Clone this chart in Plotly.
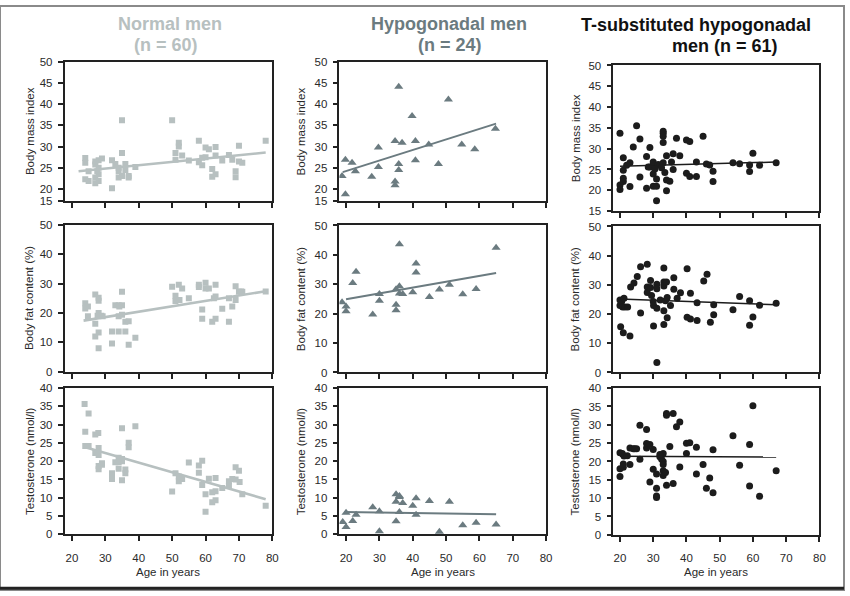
import plotly.graph_objects as go

W, H = 850, 596

# ---------------- DATA ----------------
# Normal men (n = 60)
normal_bmi_age = [24, 24, 24, 25, 25, 27, 27, 27, 27, 27.6, 28, 28, 28, 28, 29, 32, 32, 33, 34, 34, 34, 35, 35, 35,
                  36, 36, 37, 37, 39, 50, 51, 51, 52, 52, 53, 55, 58, 58, 59, 59, 60, 60, 61, 62, 62, 63, 63, 63,
                  65, 67, 68, 69, 69, 70, 70, 71, 78]
normal_bmi = [27.3, 26.2, 22.3, 21.9, 24.2, 26.5, 25.8, 22.7, 21.4, 24.2, 25.0, 26.8, 23.5, 21.9, 27.2, 20.2, 26.8,
              25.9, 24.2, 22.7, 25.0, 36.2, 28.5, 23.1, 25.9, 24.5, 23.1, 22.7, 25.2, 36.2, 28.5, 26.9, 30.9, 30.0,
              27.9, 26.7, 31.4, 26.3, 25.6, 27.4, 29.8, 27.5, 29.4, 24.7, 22.9, 29.9, 27.9, 23.5, 26.7, 28.0, 26.9,
              24.2, 22.8, 30.2, 26.5, 26.2, 31.4]
normal_fat_age = [24, 24, 24.8, 24.8, 27, 27, 27, 27.7, 28, 28, 28, 28, 28, 28.8, 29.2, 32, 32, 33, 34, 34, 34, 34.2,
                  35, 35, 35, 36, 36, 37, 37, 39, 50, 51, 51, 52, 52.2, 53, 55, 58, 58, 59, 59, 60, 60, 61, 62,
                  62.5, 63, 63, 63, 65, 67, 67, 68, 69, 69, 70, 70.6, 71, 78]
normal_fat = [23.3, 21.5, 22.2, 18.9, 26.3, 16.3, 12.0, 19.1, 25.2, 24.2, 20.0, 13.4, 8.0, 19.1, 18.9, 9.6, 13.7,
              22.6, 13.7, 22.6, 18.9, 22.2, 27.2, 22.6, 19.4, 17.0, 13.7, 17.2, 9.2, 11.6, 28.9, 25.9, 24.1, 29.6,
              24.4, 28.3, 25.0, 29.6, 28.8, 21.2, 18.0, 30.3, 28.3, 28.3, 17.0, 25.0, 29.6, 25.6, 18.0, 21.4, 17.0,
              25.0, 22.2, 29.1, 24.4, 27.2, 27.3, 27.2, 27.3]
normal_t_age = [23.8, 25, 24, 24, 25, 27, 27.9, 27, 28, 28, 28, 28, 29, 29, 32, 32, 33, 34, 34, 34, 35, 35, 35, 35,
                36, 36, 37, 37, 39, 50, 51, 52, 52, 53, 55, 58, 58, 59, 59, 60, 60, 61, 62, 62, 63, 63, 63, 65,
                67, 67, 68, 69, 69, 70, 70.2, 71, 78]
normal_t = [35.6, 33.0, 28.0, 24.1, 24.1, 27.3, 27.7, 22.2, 23.6, 21.7, 18.7, 17.8, 19.4, 19.0, 16.7, 15.1, 19.7,
            19.7, 20.9, 17.9, 20.6, 29.0, 20.0, 14.8, 17.7, 16.7, 25.0, 23.8, 29.5, 11.7, 16.7, 15.8, 14.5, 15.1,
            19.6, 18.8, 16.8, 20.1, 13.5, 11.0, 6.2, 15.2, 11.5, 8.8, 15.4, 11.8, 9.3, 12.7, 13.2, 14.5, 15.1,
            18.3, 15.0, 17.4, 14.3, 11.0, 7.8]
normal_bmi_fit_age, normal_bmi_fit = [22, 78], [24.2, 28.6]
normal_fat_fit_age, normal_fat_fit = [23.5, 78], [17.4, 27.4]
normal_t_fit_age, normal_t_fit = [24, 78], [23.8, 9.6]

# Hypogonadal men (n = 24)
hypo_age = [19, 20, 20, 22, 23, 28, 30, 30, 35, 35, 35, 36, 36, 36, 37, 40, 41, 41, 45, 48, 51, 55, 59, 65]
hypo_bmi_age = [18.8, 19.8, 19.8, 21.8, 22.8, 27.7, 29.7, 29.7, 34.7, 34.7, 34.7, 35.8, 35.8, 35.8, 36.8, 39.8,
                40.8, 40.8, 44.8, 47.7, 50.7, 54.7, 58.6, 64.8]
hypo_bmi = [23.1, 26.9, 18.8, 26.2, 24.2, 22.9, 29.8, 25.2, 31.3, 21.8, 20.9, 44.1, 25.9, 24.5, 30.9, 37.2, 31.3,
            26.8, 30.5, 25.9, 41.1, 30.5, 29.4, 34.2]
hypo_fat_age = [18.8, 20, 20, 22, 23, 28, 30, 30, 35, 35, 35, 36, 36, 36, 37, 40, 41, 41, 45, 48, 51, 55, 59, 65]
hypo_fat = [23.9, 22.4, 20.8, 30.4, 34.3, 19.7, 26.7, 24.4, 23.0, 21.2, 28.3, 43.6, 29.3, 26.9, 26.7, 27.3, 37.1,
            34.0, 25.7, 28.2, 29.8, 26.6, 28.4, 42.4]
hypo_t = [3.4, 5.9, 2.0, 3.7, 5.4, 7.4, 6.3, 0.9, 11.0, 8.9, 3.6, 10.5, 10.2, 6.1, 8.6, 7.8, 9.9, 5.4, 9.1, 0.7,
          8.9, 2.5, 3.2, 2.7]
hypo_bmi_fit_age, hypo_bmi_fit = [19, 65], [24.0, 35.4]
hypo_fat_fit_age, hypo_fat_fit = [20, 65], [24.9, 33.8]
hypo_t_fit_age, hypo_t_fit = [19.5, 65], [6.1, 5.5]

# T-substituted hypogonadal men (n = 61)
tsub_bmi_age = [20, 20, 20, 21, 21, 21, 21, 22, 23, 23, 24, 25, 26, 26, 28, 28, 29, 28.5, 29, 30, 30, 30, 31, 31,
                31, 31.5, 33, 33, 33, 33, 33, 32.5, 33.5, 34, 34, 34, 35, 36, 36, 37, 38, 40, 41, 40, 41, 43, 43,
                45, 46, 47, 48, 48, 54, 56, 59, 59, 60, 62, 67, 30.5, 35.5]
tsub_bmi = [33.7, 21.3, 20.2, 27.8, 24.8, 22.9, 22.1, 26.0, 26.6, 20.9, 30.4, 35.5, 32.3, 23.2, 20.5, 28.1, 30.3,
            25.6, 25.6, 26.8, 23.9, 21.0, 22.7, 21.0, 17.5, 26.2, 33.7, 34.2, 33.0, 31.5, 26.6, 25.4, 24.3, 22.5,
            28.3, 19.9, 22.2, 25.0, 28.8, 32.5, 28.3, 32.1, 31.7, 24.1, 23.3, 26.8, 23.3, 33.0, 26.3, 26.1, 24.6,
            22.1, 26.6, 26.4, 24.5, 26.1, 28.9, 26.0, 26.6, 25.1, 26.8]
tsub_fat_age = [20, 20, 20.2, 20.5, 20.8, 21, 21.2, 21.5, 22.3, 23, 23.2, 24.2, 25.2, 26.2, 26.2, 28.2, 28.2, 28.2,
                29.2, 29.2, 30, 30.1, 30.1, 31.1, 31.1, 31.1, 31.1, 32.1, 33.2, 33.2, 33.2, 33.2, 33.2, 33.7, 34,
                34.2, 34.2, 35.2, 36.2, 36.2, 37.2, 38.2, 40.2, 40.2, 41.2, 41.2, 43.2, 43.2, 45.2, 46.2, 47.2,
                48.2, 48.2, 54, 56, 59, 59, 60, 62, 67, 29.5]
tsub_fat = [24.8, 22.9, 15.7, 24.3, 22.4, 13.6, 25.4, 22.4, 22.4, 12.5, 29.3, 30.6, 32.9, 36.2, 20.4, 37.1, 29.3,
            27.4, 31.5, 29.1, 24.3, 22.9, 15.9, 30.2, 28.7, 22.0, 3.4, 24.8, 35.8, 31.0, 29.6, 21.1, 16.4, 24.6,
            31.0, 25.7, 18.7, 22.9, 32.4, 28.5, 25.4, 27.3, 35.5, 18.9, 27.1, 18.3, 23.9, 17.8, 31.3, 33.6, 17.2,
            23.2, 19.8, 21.5, 26.0, 24.6, 16.2, 19.0, 23.0, 23.7, 26.4]
tsub_t_age = [20, 20, 20, 20.7, 21, 21, 21.2, 22.2, 23, 23, 24, 25, 26, 26, 28, 28, 28, 29, 29, 30, 30, 31, 31, 31,
              31, 32, 32.5, 33, 33, 33, 33, 33, 33.7, 34, 34, 34, 35, 36, 36, 37, 38, 38, 40, 40, 41, 43, 43, 45,
              46, 47, 48, 48, 54, 56, 59, 59, 60, 62, 67, 24.4, 32]
tsub_t = [22.4, 18.0, 15.9, 22.2, 18.4, 19.3, 21.5, 21.6, 19.2, 23.7, 23.5, 23.5, 29.9, 20.6, 28.7, 24.9, 23.7,
          24.6, 14.4, 23.3, 17.9, 16.6, 12.7, 10.6, 10.2, 21.3, 20.7, 22.2, 20.0, 19.2, 17.5, 16.2, 17.0, 33.1,
          32.6, 13.5, 24.1, 33.1, 14.0, 29.5, 30.8, 18.5, 25.0, 22.2, 25.1, 23.9, 16.6, 19.2, 12.7, 15.5, 23.2,
          11.5, 27.0, 19.0, 24.6, 13.3, 35.2, 10.5, 17.5, 23.5, 21.9]
tsub_bmi_fit_age, tsub_bmi_fit = [20, 67], [25.8, 26.8]
tsub_fat_fit_age, tsub_fat_fit = [20, 67], [25.2, 23.2]
tsub_t_fit_age, tsub_t_fit = [20, 67], [21.4, 21.2]

group_titles = [["Normal men", "(n = 60)"], ["Hypogonadal men", "(n = 24)"],
                ["T-substituted hypogonadal", "men (n = 61)"]]
y_titles = ["Body mass index", "Body fat content (%)", "Testosterone (nmol/l)"]
x_title = "Age in years"
x_ticks = [20, 30, 40, 50, 60, 70, 80]

# ---------------- STYLE / LAYOUT ----------------
styles = [
    dict(symbol="square", size=6, color="#b7c0c0", lw=2.6),
    dict(symbol="triangle-up", size=8, color="#6b7b80", lw=2.0),
    dict(symbol="circle", size=7, color="#1c1c1c", lw=1.5),
]
title_colors = ["#b7c0c0", "#6b7b80", "#111111"]

col_geo = [  # left px, right px, x range
    (65.0, 274.3, [17.8, 80]),
    (341.8, 550.0, [18.0, 80]),
    (617.7, 825.2, [18.0, 80]),
]


def ygeo(r, c):
    if r == 0:
        if c < 2:
            tv = [17.2, 20, 25, 30, 35, 40, 45, 50]
            return 56.7, 199.0, [17.2, 50], tv, ["15"] + [str(v) for v in tv[1:]]
        tv = [15, 20, 25, 30, 35, 40, 45, 50]
        return 60.7, 209.3, [15, 50], tv, [str(v) for v in tv]
    if r == 1:
        tv = [0, 10, 20, 30, 40, 50]
        top, bot = [(223.3, 373.3), (224.0, 374.0), (225.0, 374.0)][c]
        return top, bot, [0, 50], tv, [str(v) for v in tv]
    tv = [0, 5, 10, 15, 20, 25, 30, 35, 40]
    top, bot = [(389.7, 539.3), (389.7, 539.3), (390.0, 539.7)][c]
    return top, bot, [0, 40], tv, [str(v) for v in tv]


ytitle_x = [30, 303.3, 580]

panels = [
    [(normal_bmi_age, normal_bmi, normal_bmi_fit_age, normal_bmi_fit),
     (hypo_bmi_age, hypo_bmi, hypo_bmi_fit_age, hypo_bmi_fit),
     (tsub_bmi_age, tsub_bmi, tsub_bmi_fit_age, tsub_bmi_fit)],
    [(normal_fat_age, normal_fat, normal_fat_fit_age, normal_fat_fit),
     (hypo_fat_age, hypo_fat, hypo_fat_fit_age, hypo_fat_fit),
     (tsub_fat_age, tsub_fat, tsub_fat_fit_age, tsub_fat_fit)],
    [(normal_t_age, normal_t, normal_t_fit_age, normal_t_fit),
     (hypo_age, hypo_t, hypo_t_fit_age, hypo_t_fit),
     (tsub_t_age, tsub_t, tsub_t_fit_age, tsub_t_fit)],
]

FONT = "Liberation Sans, Arial, Helvetica, sans-serif"
AX = "#222222"
TXT = "#2a2a2a"

fig = go.Figure()
layout = {}
annotations = []

for r in range(3):
    for c in range(3):
        i = r * 3 + c + 1
        xs = "" if i == 1 else str(i)
        xa, ya = "x" + xs, "y" + xs
        st = styles[c]
        xd, yd, fx, fy = panels[r][c]
        fig.add_trace(go.Scatter(x=fx, y=fy, mode="lines", xaxis=xa, yaxis=ya,
                                 line=dict(color=st["color"], width=st["lw"]), hoverinfo="skip"))
        fig.add_trace(go.Scatter(x=xd, y=yd, mode="markers", xaxis=xa, yaxis=ya,
                                 marker=dict(symbol=st["symbol"], size=st["size"], color=st["color"],
                                             line=dict(width=0))))
        x0, x1, xr = col_geo[c]
        top, bot, yr, tv, tt = ygeo(r, c)
        common = dict(showline=True, linecolor=AX, linewidth=1.6, mirror=True, ticks="outside",
                      ticklen=5, tickwidth=1.5, tickcolor=AX, showgrid=False, zeroline=False,
                      tickfont=dict(size=11.5, color=TXT, family=FONT))
        layout["xaxis" + xs] = dict(common, domain=[x0 / W, x1 / W], range=xr, anchor=ya,
                                    tickvals=x_ticks, showticklabels=(r == 2), ticklabelstandoff=7)
        layout["yaxis" + xs] = dict(common, domain=[1 - bot / H, 1 - top / H], range=yr, anchor=xa,
                                    tickvals=tv, ticktext=tt, ticklabelstandoff=3)
        annotations.append(dict(text=y_titles[r], xref="paper", yref="paper", x=ytitle_x[c] / W,
                                y=1 - (top + bot) / 2 / H, textangle=-90, showarrow=False,
                                xanchor="center", yanchor="middle",
                                font=dict(size=11.5, color=TXT, family=FONT)))
        if r == 2:
            annotations.append(dict(text=x_title, xref="paper", yref="paper", x=(x0 + x1) / 2 / W,
                                    y=1 - 578 / H, showarrow=False, xanchor="center", yanchor="middle",
                                    font=dict(size=11.5, color=TXT, family=FONT)))

title_pos = [[(171, 18), (167, 40)], [(452, 18), (453, 40)], [(701, 19), (730, 41)]]
for c in range(3):
    for k in range(2):
        px, py = title_pos[c][k]
        annotations.append(dict(text="<b>" + group_titles[c][k] + "</b>", xref="paper", yref="paper",
                                x=px / W, y=1 - py / H, showarrow=False, xanchor="center",
                                yanchor="middle",
                                font=dict(size=18, color=title_colors[c], family=FONT)))

fig.update_layout(**layout)
fig.update_layout(width=W, height=H, autosize=False, margin=dict(l=0, r=0, t=0, b=0),
                  plot_bgcolor="white", paper_bgcolor="white", showlegend=False,
                  annotations=annotations,
                  shapes=[dict(type="rect", xref="paper", yref="paper", x0=0, x1=1, y0=0, y1=1,
                               line=dict(color="#8a8a8a", width=2)),
                          dict(type="line", xref="paper", yref="paper", x0=0, x1=1, y0=0.003, y1=0.003,
                               line=dict(color="#222222", width=3))])
fig.write_html("out.html")
